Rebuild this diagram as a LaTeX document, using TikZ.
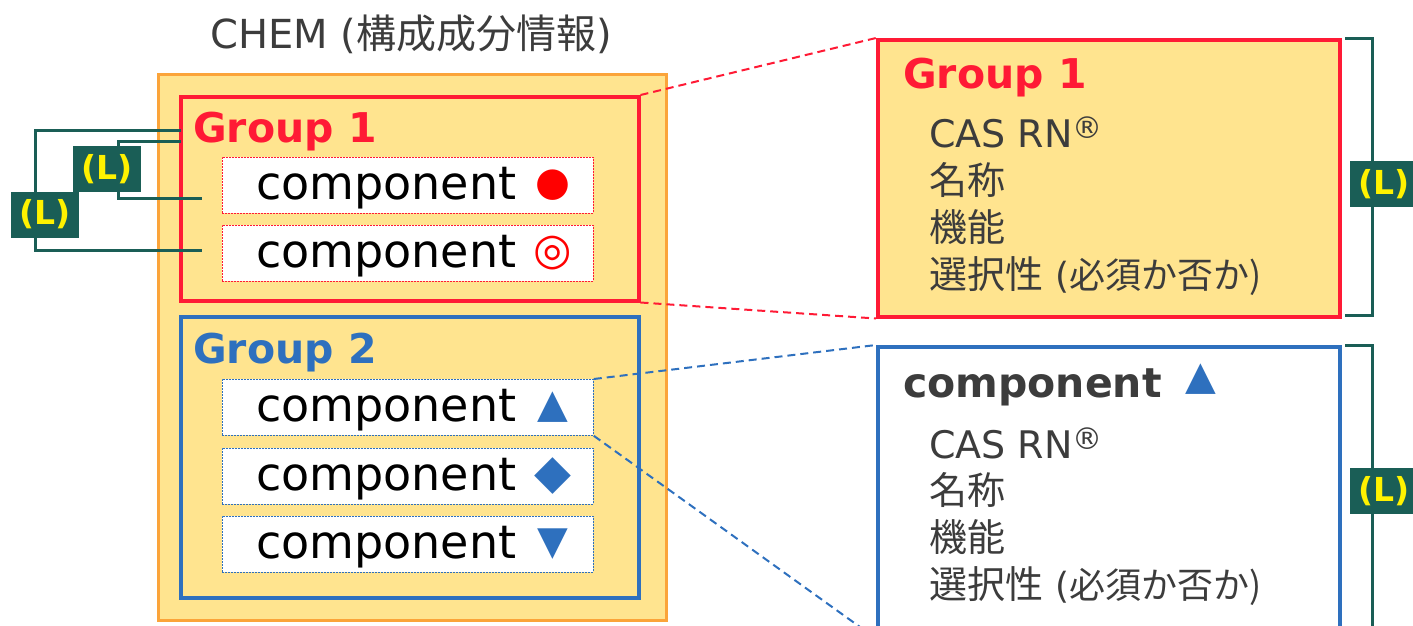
\documentclass[tikz,border=0pt]{standalone}
\usepackage{fontspec}
\setmainfont{DejaVu Sans}
\newfontfamily\jpfont{Noto Sans CJK JP}
\definecolor{ylw}{HTML}{FFE48F}
\definecolor{orng}{HTML}{FBA43A}
\definecolor{rd}{HTML}{FF1A35}
\definecolor{blu}{HTML}{2E70BE}
\definecolor{teal}{HTML}{1A5E56}
\definecolor{gry}{HTML}{3C3C3C}
\newcommand{\fs}[1]{\fontsize{#1}{#1}\selectfont}
\begin{document}
\begin{tikzpicture}[x=1pt,y=-1pt,
  box/.style={draw, inner sep=0pt, anchor=north west},
  comp/.style={box, fill=white, line width=0.8pt, dash pattern=on 2pt off 1pt, minimum width=371pt, minimum height=56pt},
  comptext/.style={anchor=base west, inner sep=0pt, text=black, font=\fs{46}},
  sym/.style={inner sep=0pt, font=\fs{40}},
  grp/.style={anchor=base west, inner sep=0pt, font=\bfseries\fs{41}},
  item/.style={anchor=base west, inner sep=0pt, text=gry, font=\fs{38}},
  lbl/.style={fill=teal, text=yellow, font=\bfseries\fs{33}, minimum width=68pt, minimum height=46pt, inner sep=0pt},
  brk/.style={draw=teal, line width=3pt},
  conn/.style={line width=2pt, dash pattern=on 8pt off 5pt}]
\useasboundingbox (0,0) rectangle (1413,625);
% left panel
\node[box, draw=orng, fill=ylw, line width=3pt, minimum width=508pt, minimum height=546pt] (chem) at (157,73) {};
\node[anchor=base, inner sep=0pt, text=gry, font=\fs{40}] (title) at (411,48) {CHEM ({\jpfont 構成成分情報})};
\node[box, draw=rd, line width=3.5pt, minimum width=458pt, minimum height=204pt] (g1) at (179,95) {};
\node[grp, text=rd] (g1t) at (193,142) {Group 1};
\node[comp, draw=rd] (c1) at (222,157) {};
\node[comptext] (c1t) at (256,199) {component};
\node[sym, text=red] (s1) at (c1.center -| 553,0) {●};
\node[comp, draw=rd] (c2) at (222,225) {};
\node[comptext] (c2t) at (256,267) {component};
\node[sym, text=red, font=\fs{44}] (s2) at (c2.center -| 553,0) {◎};
\node[box, draw=blu, line width=3.5pt, minimum width=458pt, minimum height=281pt] (g2) at (179,315) {};
\node[grp, text=blu] (g2t) at (193,363) {Group 2};
\node[comp, draw=blu] (c3) at (222,379) {};
\node[comptext] (c3t) at (256,421) {component};
\node[sym, text=blu] (s3) at (c3.center -| 553,0) {▲};
\node[comp, draw=blu] (c4) at (222,448) {};
\node[comptext] (c4t) at (256,490) {component};
\node[sym, text=blu, font=\fs{48}] (s4) at (c4.center -| 553,0) {◆};
\node[comp, draw=blu] (c5) at (222,516) {};
\node[comptext] (c5t) at (256,558) {component};
\node[sym, text=blu] (s5) at (c5.center -| 553,0) {▼};
% left brackets
\coordinate (oa) at (181,130);
\coordinate (ob) at (202,250);
\coordinate (ia) at (181,141);
\coordinate (ib) at (202,198);
\draw[brk] (oa) -- (35,130) -- (35,250) -- (ob);
\draw[brk] (ia) -- (118,141) -- (118,198) -- (ib);
\node[lbl] (l1) at (107,169) {(L)};
\node[lbl] (l2) at (45,214.5) {(L)};
% right panel
\node[box, draw=rd, fill=ylw, line width=3.5pt, minimum width=462pt, minimum height=277pt] (r1) at (876,38) {};
\node[grp, text=rd] (r1t) at (903,88) {Group 1};
\node[item] (r1a) at (929,147) {CAS RN\raisebox{9pt}{\fs{30}®}};
\node[item] (r1b) at (929,194) {\jpfont 名称};
\node[item] (r1c) at (929,241) {\jpfont 機能};
\node[item] (r1d) at (929,288) {{\jpfont 選択性} {\fs{36}(\jpfont 必須か否か)}};
\node[box, draw=blu, fill=white, line width=3.5pt, minimum width=462pt, minimum height=290pt] (r2) at (876,345) {};
\node[grp, text=gry] (r2t) at (903,397) {component};
\node[sym, text=blu, font=\fs{40}] (r2s) at (1201,379) {▲};
\node[item] (r2a) at (929,458) {CAS RN\raisebox{9pt}{\fs{30}®}};
\node[item] (r2b) at (929,504) {\jpfont 名称};
\node[item] (r2c) at (929,551) {\jpfont 機能};
\node[item] (r2d) at (929,598) {{\jpfont 選択性} {\fs{36}(\jpfont 必須か否か)}};
% right brackets
\draw[brk] (1345,38) -- (1372,38) -- (1372,315) -- (1345,315);
\draw[brk] (1345,345) -- (1372,345) -- (1372,640);
\node[lbl] (l3) at (1384,184) {(L)};
\node[lbl] (l4) at (1384,491) {(L)};
% connectors
\draw[conn, draw=rd] (g1.north east) -- (r1.north west);
\draw[conn, draw=rd] (g1.south east) -- (r1.south west);
\draw[conn, draw=blu] (c3.north east) -- (r2.north west);
\draw[conn, draw=blu] (c3.south east) -- (r2.south west);
\end{tikzpicture}
\end{document}
